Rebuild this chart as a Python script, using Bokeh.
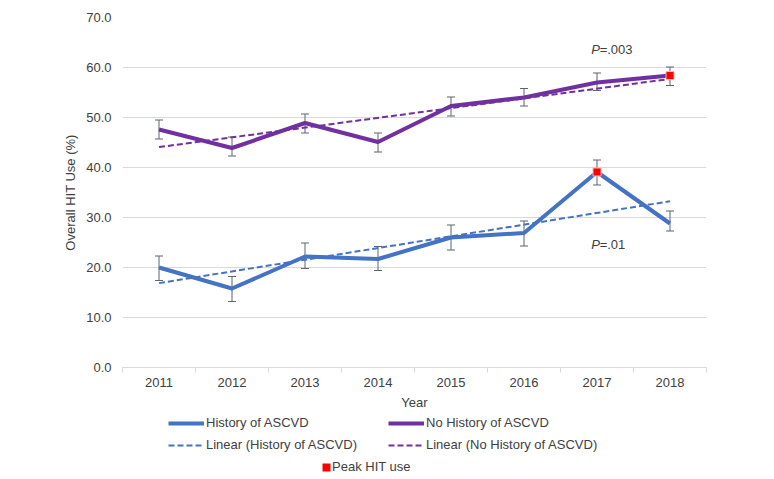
import numpy as np
from bokeh.plotting import figure
from bokeh.layouts import column
from bokeh.models import (ColumnDataSource, Range1d, FixedTicker, NumeralTickFormatter,
                          Whisker, TeeHead, Legend, LegendItem, Label)
from bokeh.embed import file_html
from bokeh.resources import INLINE

# ---------------- data ----------------
years = ["2011", "2012", "2013", "2014", "2015", "2016", "2017", "2018"]

hist = [20.0, 15.8, 22.2, 21.7, 26.0, 26.9, 39.1, 28.8]
hist_upper = [22.3, 18.2, 24.9, 24.2, 28.5, 29.3, 41.5, 31.3]
hist_lower = [17.4, 13.2, 19.8, 19.4, 23.5, 24.3, 36.5, 27.3]

nohist = [47.6, 43.9, 48.9, 45.1, 52.3, 54.0, 57.0, 58.4]
nohist_upper = [49.5, 46.1, 50.7, 46.9, 54.1, 55.8, 58.9, 60.1]
nohist_lower = [45.7, 42.3, 46.9, 43.1, 50.3, 52.3, 55.4, 56.4]

peak_years = ["2017", "2018"]
peak_values = [39.1, 58.4]

p_hist = "=.01"
p_nohist = "=.003"

y_ticks = [0, 10, 20, 30, 40, 50, 60, 70]

# ---------------- derived ----------------
xs = list(range(len(years)))
xb = [i - 0.5 for i in range(len(years) + 1)]
ends = [xs[0], xs[-1]]
fh = np.polyfit(xs, hist, 1)
fn = np.polyfit(xs, nohist, 1)
trend_h = list(np.polyval(fh, ends))
trend_n = list(np.polyval(fn, ends))
peak_x = [years.index(y) for y in peak_years]

BLUE = "#4472C4"
PURPLE = "#7030A0"
TXT = "#404040"
GRID = "#d9d9d9"
FONT = "Liberation Sans"
W = 764

p = figure(frame_width=584, frame_height=350, min_border_left=122, min_border_right=58,
           min_border_top=17, min_border_bottom=46,
           x_range=Range1d(-0.5, len(years) - 0.5), y_range=Range1d(0, 70),
           output_backend="svg", toolbar_location=None)
p.outline_line_color = None

# axes
p.xgrid.grid_line_color = None
p.ygrid.grid_line_color = GRID
p.ygrid.ticker = FixedTicker(ticks=y_ticks)

p.yaxis.ticker = FixedTicker(ticks=y_ticks)
p.yaxis.formatter = NumeralTickFormatter(format="0.0")
p.yaxis.axis_line_color = None
p.yaxis.major_tick_line_color = None
p.yaxis.major_tick_out = 0
p.yaxis.minor_tick_line_color = None
p.yaxis.major_label_standoff = 11
p.yaxis.axis_label = "Overall HIT Use (%)"
p.yaxis.axis_label_standoff = 5

p.xaxis.ticker = FixedTicker(ticks=xs, minor_ticks=xb)
p.xaxis.major_label_overrides = {i: y for i, y in zip(xs, years)}
p.xaxis.axis_line_color = GRID
p.xaxis.major_tick_line_color = None
p.xaxis.major_tick_out = 0
p.xaxis.major_tick_in = 0
p.xaxis.minor_tick_line_color = GRID
p.xaxis.minor_tick_out = 5
p.xaxis.minor_tick_in = 0
p.xaxis.major_label_standoff = 5
p.xaxis.axis_label = "Year"
p.xaxis.axis_label_standoff = 5

for ax in (p.xaxis, p.yaxis):
    ax.major_label_text_font = FONT
    ax.major_label_text_font_size = "13px"
    ax.major_label_text_color = TXT
    ax.axis_label_text_font = FONT
    ax.axis_label_text_font_size = "13px"
    ax.axis_label_text_font_style = "normal"
    ax.axis_label_text_color = TXT

# series
p.line(xs, hist, line_color=BLUE, line_width=4, line_join="round")
p.line(xs, nohist, line_color=PURPLE, line_width=4, line_join="round")
p.line(ends, trend_h, line_color=BLUE, line_width=2, line_dash="6 3")
p.line(ends, trend_n, line_color=PURPLE, line_width=2, line_dash="6 3")

ERR = "#5b6472"
for up, lo in ((hist_upper, hist_lower), (nohist_upper, nohist_lower)):
    src = ColumnDataSource(dict(base=xs, upper=up, lower=lo))
    w = Whisker(source=src, base="base", upper="upper", lower="lower",
                line_color=ERR, line_width=1,
                upper_head=TeeHead(size=8, line_color=ERR, line_width=1),
                lower_head=TeeHead(size=8, line_color=ERR, line_width=1))
    p.add_layout(w)

p.scatter(peak_x, peak_values, marker="square", size=8, fill_color="#FF0000",
          line_color="#ffb0b0", line_width=1)

# p-value labels
for xv, yv, t in ((5.92, 63.7, p_nohist), (5.92, 24.7, p_hist)):
    p.add_layout(Label(x=xv, y=yv, text="P", text_font=FONT, text_font_size="13px",
                       text_font_style="italic", text_color=TXT, text_baseline="middle"))
    p.add_layout(Label(x=xv, y=yv, x_offset=8.5, text=t, text_font=FONT, text_font_size="13px",
                       text_color=TXT, text_baseline="middle"))

# ---------------- legend strip ----------------
# (series are re-drawn here only as legend sources; they fall outside this strip's ranges)
LH = 64
q = figure(width=W, height=LH, min_border=0, x_range=Range1d(-100, -99), y_range=Range1d(-100, -99),
           x_axis_type=None, y_axis_type=None, output_backend="svg", toolbar_location=None)
q.outline_line_color = None
q.xgrid.visible = False
q.ygrid.visible = False

q_h = q.line(xs, hist, line_color=BLUE, line_width=4)
q_n = q.line(xs, nohist, line_color=PURPLE, line_width=4)
q_th = q.line(ends, trend_h, line_color=BLUE, line_width=2, line_dash="6 3")
q_tn = q.line(ends, trend_n, line_color=PURPLE, line_width=2, line_dash="6 3")
q_pk = q.quad(left=peak_x, right=peak_x, top=peak_values, bottom=peak_values,
              fill_color="#FF0000", line_color=None)

def add_leg(label, rend, loc, gw=36, gh=14, standoff=2):
    lg = Legend(items=[LegendItem(label=label, renderers=[rend])], location=loc,
                border_line_color=None, background_fill_alpha=0, padding=0, margin=0,
                spacing=0, glyph_width=gw, glyph_height=gh, label_height=14,
                label_standoff=standoff, label_text_font=FONT, label_text_font_size="13px",
                label_text_color=TXT)
    q.add_layout(lg)

# locations are relative to the strip's frame (aligned with the chart frame)
add_leg("History of ASCVD", q_h, (46, 47))
add_leg("No History of ASCVD", q_n, (266, 47))
add_leg("Linear (History of ASCVD)", q_th, (46, 25))
add_leg("Linear (No History of ASCVD)", q_tn, (266, 25))
add_leg("Peak HIT use", q_pk, (199, 3), gw=10, gh=10, standoff=1)

open("out.html", "w").write(file_html(column(p, q, spacing=0), INLINE))
